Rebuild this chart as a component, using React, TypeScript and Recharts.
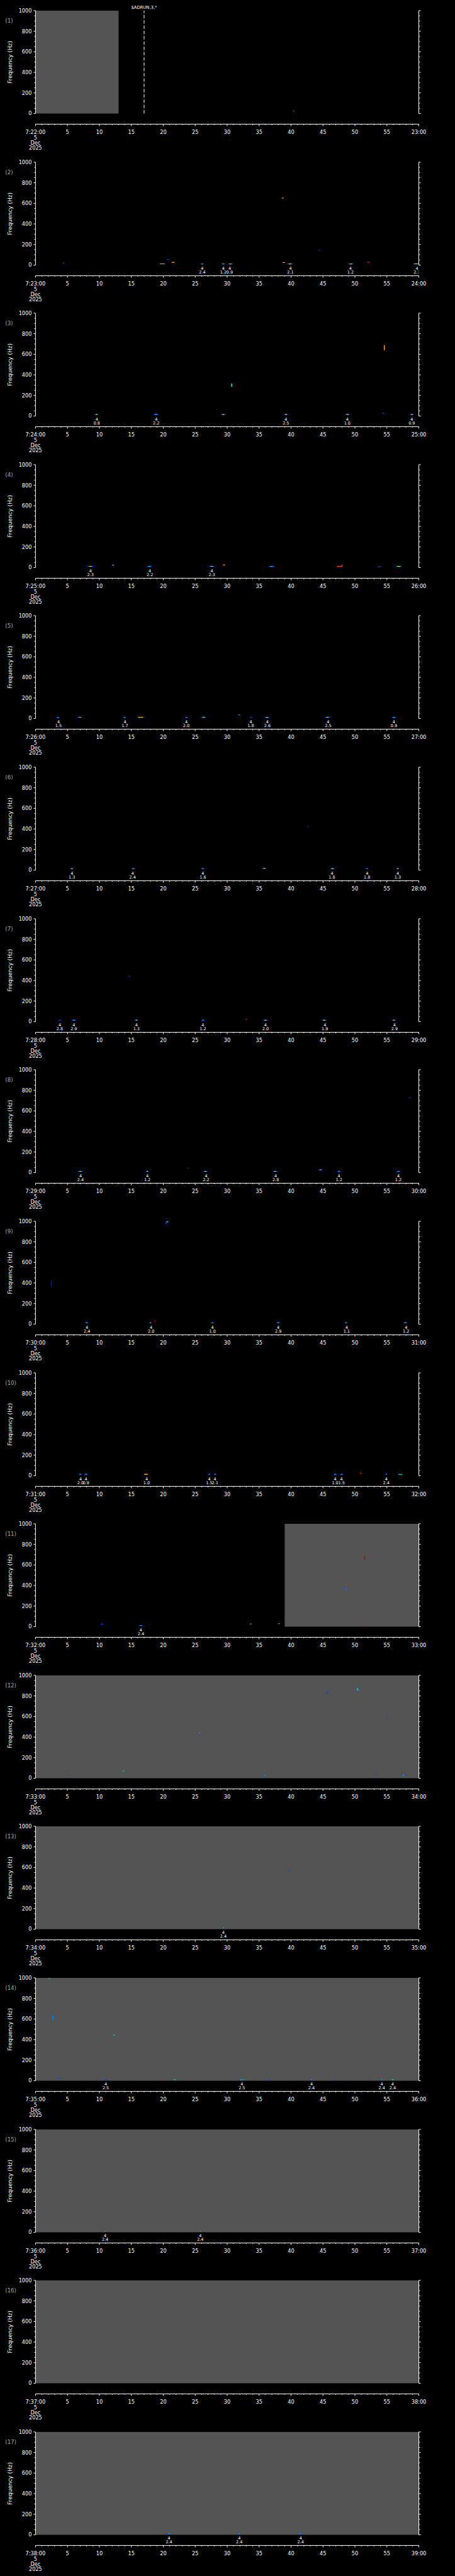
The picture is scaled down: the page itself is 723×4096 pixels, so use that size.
import React from 'react';
import { ComposedChart, XAxis, YAxis, Scatter, ReferenceArea, ReferenceLine } from 'recharts';

// scale of the whole drawing against the 1024px wide original
const S = 0.705;
const W = 722;
const CH = 241;
const PITCH = 341.3 * S;
const TOP = 24 * S;
const PLOT_H = 232 * S + 24 * S;
const FONT = '"DejaVu Sans", sans-serif';

// one panel per minute, 7:22 .. 7:38
const panelMinutes = [22, 23, 24, 25, 26, 27, 28, 29, 30, 31, 32, 33, 34, 35, 36, 37, 38];
const dateLines = ['5', 'Dec', '2025'];
const xTicks = [0, 1, 2, 3, 4, 5, 6, 7, 8, 9, 10, 11, 12, 13, 14, 15, 16, 17, 18, 19, 20, 21, 22, 23, 24, 25, 26, 27, 28, 29, 30,
  31, 32, 33, 34, 35, 36, 37, 38, 39, 40, 41, 42, 43, 44, 45, 46, 47, 48, 49, 50, 51, 52, 53, 54, 55, 56, 57, 58, 59, 60];
const yTicks = [0, 50, 100, 150, 200, 250, 300, 350, 400, 450, 500, 550, 600, 650, 700, 750, 800, 850, 900, 950, 1000];
const Y_MIN = -103.45; // room between 0 Hz and the time axis
const MARK_LEVEL = -31;

// gray "no data" spans, seconds
const graySpans: [number, number][][] = [
  [[0, 13]], [], [], [], [], [], [], [], [], [], [[39, 60]],
  [[0, 60]], [[0, 60]], [[0, 60]], [[0, 60]], [[0, 60]], [[0, 60]],
];

// detections: [second, magnitude label]
const p1Marks: [number, string][] = [];
const p2Marks: [number, string][] = [[26.1, '2.4'], [29.4, '1.2'], [30.4, '0.9'], [39.9, '2.1'], [49.3, '1.2'], [59.7, '2.3']];
const p3Marks: [number, string][] = [[9.6, '0.8'], [18.9, '2.2'], [39.2, '2.5'], [48.8, '1.0'], [58.9, '0.9']];
const p4Marks: [number, string][] = [[8.6, '2.3'], [17.9, '2.2'], [27.6, '2.3']];
const p5Marks: [number, string][] = [[3.6, '1.5'], [14.0, '1.7'], [23.6, '2.0'], [33.7, '1.8'], [36.3, '2.6'], [45.8, '2.5'], [56.1, '0.9']];
const p6Marks: [number, string][] = [[5.7, '1.3'], [15.2, '2.4'], [26.2, '1.6'], [46.4, '1.8'], [51.9, '1.8'], [56.7, '1.3']];
const p7Marks: [number, string][] = [[3.8, '2.8'], [6.0, '2.9'], [15.8, '1.3'], [26.2, '1.2'], [36.0, '2.0'], [45.3, '1.9'], [56.2, '2.9']];
const p8Marks: [number, string][] = [[7.05, '2.4'], [17.5, '1.2'], [26.7, '2.2'], [37.6, '2.8'], [47.5, '1.2'], [56.8, '1.2']];
const p9Marks: [number, string][] = [[8.05, '2.4'], [18.1, '2.0'], [27.7, '1.0'], [38.0, '2.9'], [48.7, '1.1'], [58.0, '1.2']];
const p10Marks: [number, string][] = [[7.05, '2.0'], [7.9, '0.9'], [17.4, '1.0'], [27.2, '1.5'], [28.1, '2.1'], [46.9, '1.0'], [47.9, '1.5'], [54.9, '2.4']];
const p11Marks: [number, string][] = [[16.5, '2.4']];
const p12Marks: [number, string][] = [];
const p13Marks: [number, string][] = [[29.4, '2.4']];
const p14Marks: [number, string][] = [[11.0, '2.5'], [32.3, '2.5'], [43.2, '2.4'], [54.2, '2.4'], [55.9, '2.4']];
const p15Marks: [number, string][] = [[10.9, '2.4'], [25.8, '2.4']];
const p16Marks: [number, string][] = [];
const p17Marks: [number, string][] = [[20.9, '2.4'], [31.9, '2.4'], [41.5, '2.4']];

// spectrogram blobs: [second, Hz, width in s, colours (edge, centre)]
type Spot = [number, number, number, string];
const p1Spots: Spot[] = [[40.4, 26, 0.3, 'br']];
const p2Spots: Spot[] = [[4.4, 22, 0.3, 'b'], [19.85, 12, 0.8, 'c'], [20.75, 55, 0.3, 'b'], [21.55, 27, 0.6, 'ry'], [26.1, 11, 0.5, 'bc'],
  [29.4, 11, 0.6, 'bc'], [30.5, 11, 0.8, 'by'], [38.7, 652, 0.3, 'oc'], [38.85, 25, 0.5, 'ry'], [39.85, 11, 0.9, 'by'],
  [44.45, 144, 0.2, 'b'], [49.35, 11, 0.9, 'by'], [52.1, 28, 0.4, 'rb'], [59.6, 12, 0.8, 'cy']];
const p3Spots: Spot[] = [[9.55, 15, 0.7, 'by'], [18.85, 15, 0.8, 'bc'], [29.4, 15, 0.8, 'by'], [39.2, 15, 0.8, 'by'], [48.85, 15, 0.8, 'by'],
  [54.45, 27, 0.4, 'b'], [58.9, 15, 0.7, 'by']];
const p4Spots: Spot[] = [[8.6, 12, 1.0, 'by'], [12.15, 23, 0.4, 'by'], [17.85, 12, 0.8, 'bc'], [27.6, 12, 0.9, 'by'], [29.5, 25, 0.4, 'ry'],
  [36.95, 12, 0.9, 'bc'], [47.6, 12, 0.8, 'or'], [53.8, 8, 0.6, 'b'], [56.85, 12, 0.7, 'cy']];
const p5Spots: Spot[] = [[3.5, 10, 0.5, 'bc'], [6.95, 12, 0.8, 'by'], [13.95, 10, 0.5, 'bc'], [16.45, 12, 0.8, 'yo'], [23.65, 10, 0.4, 'bc'],
  [26.3, 12, 0.8, 'by'], [31.9, 36, 0.2, 'c'], [33.75, 10, 0.4, 'b'], [36.25, 10, 0.8, 'by'], [45.7, 12, 0.8, 'by'], [56.1, 10, 0.7, 'bc']];
const p6Spots: Spot[] = [[5.7, 14, 0.6, 'by'], [15.3, 14, 0.6, 'bc'], [26.2, 14, 0.5, 'bc'], [35.8, 16, 0.7, 'by'], [42.6, 423, 0.15, 'b'],
  [46.5, 14, 0.8, 'by'], [51.9, 14, 0.4, 'bc'], [56.7, 14, 0.5, 'by']];
const p7Spots: Spot[] = [[3.8, 14, 0.4, 'b'], [6.0, 14, 0.7, 'bc'], [14.7, 442, 0.2, 'b'], [15.8, 14, 0.6, 'by'], [26.2, 14, 0.5, 'bc'],
  [33.0, 23, 0.2, 'r'], [36.0, 14, 0.8, 'by'], [45.2, 14, 0.8, 'by'], [56.1, 14, 0.7, 'by']];
const p8Spots: Spot[] = [[7.0, 12, 0.8, 'by'], [17.5, 12, 0.5, 'by'], [23.9, 44, 0.15, 'r'], [26.6, 12, 0.7, 'by'], [37.5, 12, 0.8, 'by'],
  [44.6, 27, 0.7, 'bc'], [47.5, 12, 0.5, 'bc'], [56.8, 12, 0.5, 'bc'], [58.6, 731, 0.2, 'b']];
const p9Spots: Spot[] = [[8.0, 14, 0.6, 'bc'], [18.0, 14, 0.4, 'bc'], [18.7, 30, 0.15, 'r'], [20.65, 995, 0.3, 'cy'], [27.7, 14, 0.5, 'bc'],
  [38.0, 14, 0.6, 'bc'], [48.6, 14, 0.5, 'bc'], [57.9, 14, 0.6, 'bc']];
const p10Spots: Spot[] = [[7.0, 14, 0.5, 'bc'], [7.9, 14, 0.6, 'bc'], [17.3, 14, 0.6, 'yo'], [27.2, 14, 0.4, 'bc'], [28.1, 14, 0.4, 'bc'],
  [46.9, 14, 0.5, 'bc'], [47.9, 14, 0.5, 'bc'], [50.9, 23, 0.3, 'r'], [54.9, 14, 0.3, 'bc'], [57.1, 14, 0.6, 'c']];
const p11Spots: Spot[] = [[10.4, 25, 0.4, 'b'], [16.5, 12, 0.6, 'bc'], [33.7, 26, 0.3, 'rc'], [38.1, 30, 0.3, 'rc'], [48.6, 366, 0.3, 'bc'],
  [51.8, 26, 0.4, 'rb']];
const p12Spots: Spot[] = [[5.3, 26, 0.2, 'b'], [13.8, 70, 0.2, 'c'], [25.7, 440, 0.4, 'bc'], [35.9, 30, 0.3, 'bc'], [45.7, 835, 0.2, 'b'],
  [50.6, 855, 0.4, 'bc'], [53.3, 28, 0.15, 'b'], [55.1, 595, 0.2, 'b'], [57.6, 30, 0.4, 'bc']];
const p13Spots: Spot[] = [[29.4, 12, 0.5, 'bc'], [39.6, 570, 0.3, 'b']];
const p14Spots: Spot[] = [[2.2, 995, 0.2, 'c'], [3.7, 24, 0.3, 'b'], [11.0, 10, 0.4, 'b'], [12.3, 443, 0.3, 'c'], [21.8, 10, 0.3, 'c'],
  [32.3, 10, 0.5, 'cb'], [36.6, 10, 0.3, 'b'], [43.2, 10, 0.4, 'bc'], [46.8, 10, 0.2, 'b'], [54.2, 10, 0.3, 'bc'], [55.9, 10, 0.3, 'c']];
const p15Spots: Spot[] = [[10.9, 12, 0.4, 'bc'], [25.8, 12, 0.4, 'bc']];
const p16Spots: Spot[] = [];
const p17Spots: Spot[] = [[20.9, 12, 0.4, 'bc'], [31.9, 12, 0.4, 'bc'], [41.5, 12, 0.4, 'bc']];

// thin vertical streaks: [panel index, second, Hz from, Hz to, colour]
const streaks: [number, number, number, number, string][] = [
  [2, 30.7, 284, 317, 'c'], [2, 54.6, 640, 690, 'o'], [3, 48.0, 13, 30, 'r'],
  [8, 2.47, 365, 423, 'd'], [8, 20.45, 970, 1000, 'b'], [10, 51.5, 650, 690, 'k'],
  [11, 45.6, 820, 840, 'b'], [11, 50.4, 855, 875, 'c'], [13, 2.75, 590, 635, 'm'],
];

const panelMarks = [p1Marks, p2Marks, p3Marks, p4Marks, p5Marks, p6Marks, p7Marks, p8Marks, p9Marks,
  p10Marks, p11Marks, p12Marks, p13Marks, p14Marks, p15Marks, p16Marks, p17Marks];
const panelSpots = [p1Spots, p2Spots, p3Spots, p4Spots, p5Spots, p6Spots, p7Spots, p8Spots, p9Spots,
  p10Spots, p11Spots, p12Spots, p13Spots, p14Spots, p15Spots, p16Spots, p17Spots];

const COL: Record<string, string> = {
  b: '#0040ff', c: '#00d8ff', y: '#e8f000', r: '#ff1800', o: '#ff8c00',
  d: '#0010c0', k: '#c00000', m: '#0080ff',
};

const XTick = (props: any) => {
  const { x, y, payload, minute } = props;
  const v = payload.value;
  const major = v % 5 === 0;
  let label = String(v);
  if (v === 0) label = `7:${minute}:00`;
  if (v === 60) label = `${minute + 1}:00`;
  return (
    <g>
      <line x1={x} x2={x} y1={y} y2={y + (major ? 3 : 1.5)} stroke="#fff" strokeWidth={1} />
      {major && (
        <text x={x} y={y + 12.9} textAnchor="middle" dominantBaseline="central" fill="#fff" fontSize={8.2} fontFamily={FONT}>
          {label}
        </text>
      )}
      {v === 0 && dateLines.map((d, i) => (
        <text key={i} x={x} y={y + 21.3 + i * 8.3} textAnchor="middle" dominantBaseline="central" fill="#fff" fontSize={8.2} fontFamily={FONT}>
          {d}
        </text>
      ))}
    </g>
  );
};

const YTick = (props: any) => {
  const { x, y, payload, side } = props;
  const v = payload.value;
  const major = v % 200 === 0;
  const dir = side === 'left' ? -1 : 1;
  return (
    <g>
      <line x1={x} x2={x + dir * (major ? 3 : 1.9)} y1={y} y2={y} stroke="#fff" strokeWidth={1} />
      {major && side === 'left' && (
        <text x={x - 5.9} y={y} textAnchor="end" dominantBaseline="central" fill="#fff" fontSize={8.2} fontFamily={FONT}>
          {v}
        </text>
      )}
    </g>
  );
};

const MarkShape = (props: any) => {
  const { cx, cy, payload } = props;
  return (
    <g>
      <text x={cx} y={cy} textAnchor="middle" dominantBaseline="central" fill="#fff" fontSize={6.5} fontFamily={FONT}>4</text>
      <text x={cx} y={cy + 6.2} textAnchor="middle" dominantBaseline="central" fill="#fff" fontSize={6.5} fontFamily={FONT}>
        {payload.v}
      </text>
    </g>
  );
};

const PanelTitle = ({ idx }: { idx: number }) => (
  <g>
    <text x={8.3} y={32.9} dominantBaseline="central" fill="#a8a8a8" fontSize={8.6} fontFamily={FONT}>({idx + 1})</text>
    <text x={16.5} y={98.9} textAnchor="middle" dominantBaseline="central" fill="#fff" fontSize={9} fontFamily={FONT}
      transform={`rotate(-90 16.5 98.9)`}>
      Frequency  (Hz)
    </text>
  </g>
);

function Panel({ idx, minute }: { idx: number; minute: number }) {
  const marks = panelMarks[idx].map(([t, v]) => ({ t, f: MARK_LEVEL, v }));
  const spots = panelSpots[idx];
  return (
    <ComposedChart width={W} height={CH} margin={{ top: TOP, right: 0, bottom: 0, left: 0 }}>
      <XAxis dataKey="t" type="number" domain={[0, 60]} ticks={xTicks} interval={0} allowDataOverflow
        tickSize={0} tickMargin={0} tickLine={false} axisLine={{ stroke: '#fff', strokeWidth: 1 }}
        height={CH - TOP - PLOT_H} tick={(p: any) => <XTick {...p} minute={minute} />} />
      <YAxis type="number" domain={[Y_MIN, 1000]} ticks={yTicks} interval={0} allowDataOverflow width={80 * S}
        tickSize={0} tickMargin={0} tickLine={false} axisLine={false}
        tick={(p: any) => <YTick {...p} side="left" />}
        label={() => <PanelTitle idx={idx} />} />
      <YAxis yAxisId="r" orientation="right" type="number" domain={[Y_MIN, 1000]} ticks={yTicks} interval={0} allowDataOverflow
        width={W - 944 * S} tickSize={0} tickMargin={0} tickLine={false} axisLine={false}
        tick={(p: any) => <YTick {...p} side="right" />} />

      {graySpans[idx].map(([a, b], j) => (
        <ReferenceArea key={`g${j}`} x1={a} x2={b} y1={0} y2={1000} fill="#545454" fillOpacity={1} stroke="none" />
      ))}

      <ReferenceLine segment={[{ x: 0, y: 0 }, { x: 0, y: 1000 }]} stroke="#fff" strokeWidth={1} />
      <ReferenceLine segment={[{ x: 60, y: 0 }, { x: 60, y: 1000 }]} stroke="#fff" strokeWidth={1} />

      {idx === 0 && (
        <ReferenceLine segment={[{ x: 17, y: 0 }, { x: 17, y: 1000 }]} stroke="#fff" strokeWidth={1} strokeDasharray="5.6 2.8"
          label={{ value: '$ADRUN,3,*', position: 'top', offset: 3, fill: '#fff', fontSize: 6.8, fontFamily: FONT }} />
      )}

      {spots.map(([t, f, w, c], j) => (
        <ReferenceArea key={`s${j}`} x1={t - w / 2} x2={t + w / 2} y1={f - 3.5} y2={f + 3.5}
          fill={COL[c[0]]} fillOpacity={1} stroke="none" ifOverflow="visible" />
      ))}
      {spots.filter((s) => s[3].length > 1).map(([t, f, w, c], j) => (
        <ReferenceArea key={`sc${j}`} x1={t - w / 5} x2={t + w / 5} y1={f - 3.5} y2={f + 3.5}
          fill={COL[c[1]]} fillOpacity={1} stroke="none" ifOverflow="visible" />
      ))}
      {streaks.filter((s) => s[0] === idx).map(([, t, f1, f2, c], j) => (
        <ReferenceArea key={`st${j}`} x1={t - 0.08} x2={t + 0.08} y1={f1} y2={f2}
          fill={COL[c]} fillOpacity={1} stroke="none" ifOverflow="visible" />
      ))}

      <Scatter data={marks} dataKey="f" isAnimationActive={false} shape={(p: any) => <MarkShape {...p} />} />
    </ComposedChart>
  );
}

export default function App() {
  return (
    <div style={{ position: 'absolute', left: 0, top: 0, width: 723, height: 4096, background: '#000', overflow: 'hidden' }}>
      {panelMinutes.map((m, i) => (
        <div key={i} style={{ position: 'absolute', left: 0, top: Math.round(i * PITCH) }}>
          <Panel idx={i} minute={m} />
        </div>
      ))}
    </div>
  );
}
